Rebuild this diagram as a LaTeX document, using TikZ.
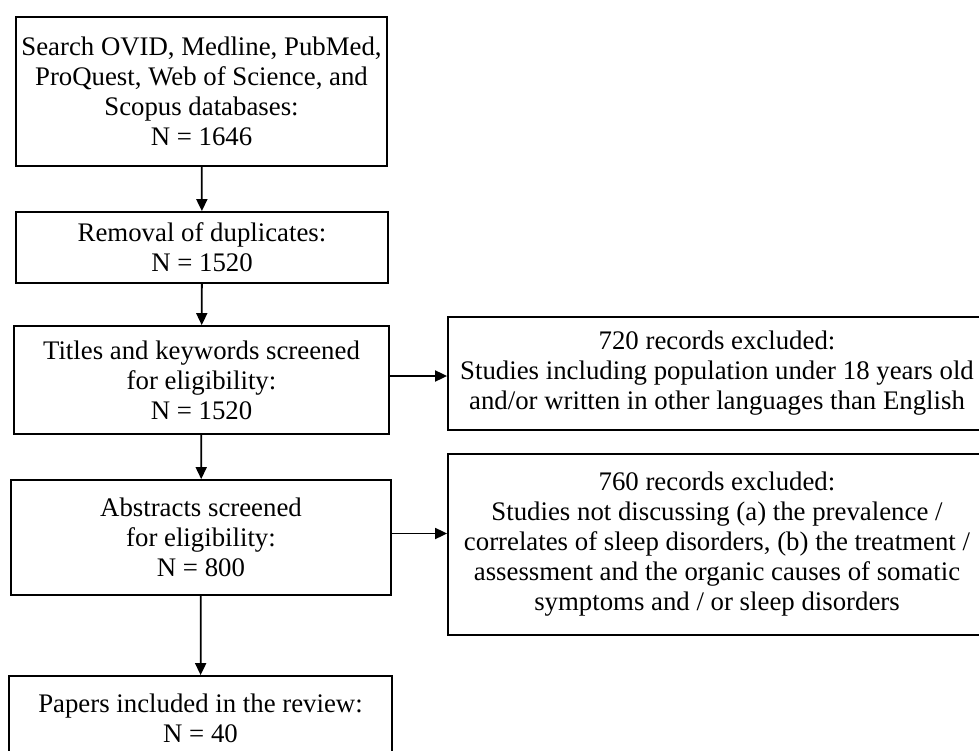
\documentclass[tikz,border=0pt]{standalone}
\usepackage{fontspec}
\setmainfont{Liberation Serif}
\usetikzlibrary{arrows.meta}

\begin{document}
\begin{tikzpicture}
[every node/.style={inner sep=0pt, align=center, font=\fontsize{26.8}{30}\selectfont},
 stagebox/.style={rectangle, draw=black, line width=1.8pt},
 flowarrow/.style={line width=1.8pt, -{Triangle[length=12pt, width=11pt]}}]
\useasboundingbox (0pt, 0pt) rectangle (979pt, -751pt);
\node (search) [stagebox, minimum width=371pt, minimum height=149pt] at (201.5pt, -91.5pt) {Search OVID, Medline, PubMed,\\ProQuest, Web of Science, and\\Scopus databases:\\N = 1646};
\node (dupl) [stagebox, minimum width=372pt, minimum height=71pt] at (202.0pt, -247.5pt) {Removal of duplicates:\\N = 1520};
\node (titles) [stagebox, minimum width=375pt, minimum height=108pt] at (201.5pt, -380.0pt) {Titles and keywords screened\\for eligibility:\\N = 1520};
\node (abstr) [stagebox, minimum width=380pt, minimum height=115pt] at (201.0pt, -537.5pt) {Abstracts screened\\for eligibility:\\N = 800};
\node (incl) [stagebox, minimum width=383pt, minimum height=84pt] at (200.5pt, -718.0pt) {Papers included in the review:\\N = 40};
\node (excl1) [stagebox, minimum width=538pt, minimum height=113pt] at (717.0pt, -373.5pt) {720 records excluded:\\Studies including population under 18 years old\\and/or written in other languages than English};
\node (excl2) [stagebox, minimum width=538pt, minimum height=181pt] at (717.0pt, -544.5pt) {760 records excluded:\\Studies not discussing (a) the prevalence /\\correlates of sleep disorders, (b) the treatment /\\assessment and the organic causes of somatic\\symptoms and / or sleep disorders};
\draw [flowarrow] (search) to (dupl);
\draw [flowarrow] (dupl) to (titles);
\draw [flowarrow] (titles) to (abstr);
\draw [flowarrow] (abstr) to (incl);
\draw [flowarrow] ([yshift=4pt]titles.east) to ([yshift=4pt]titles.east -| excl1.west);
\draw [flowarrow] ([yshift=4pt]abstr.east) to ([yshift=4pt]abstr.east -| excl2.west);
\end{tikzpicture}
\end{document}
